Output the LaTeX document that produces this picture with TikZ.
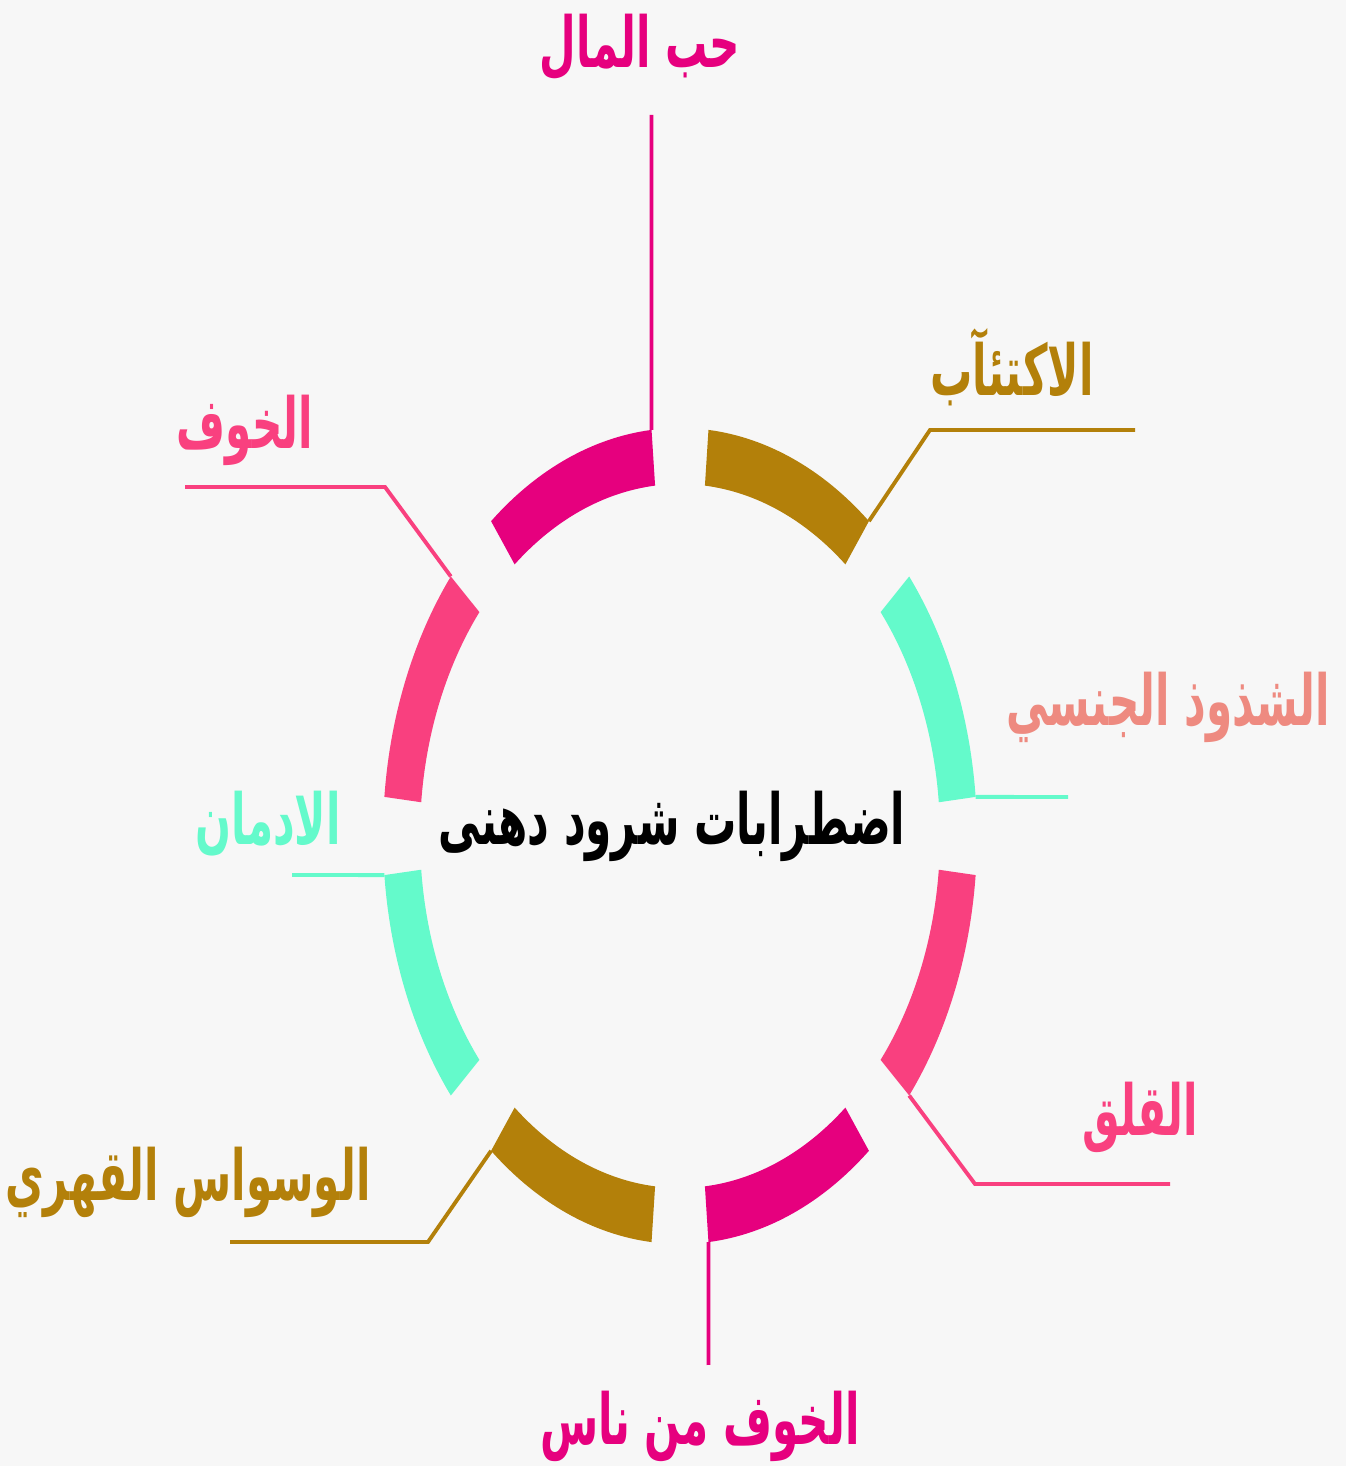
\documentclass[tikz,border=0pt]{standalone}
\usepackage{fontspec}
\newfontfamily\arabicfont[Script=Arabic]{DejaVu Sans}
\TeXXeTstate=1
\definecolor{mBack}{HTML}{F7F7F7}
\definecolor{mMagenta}{HTML}{E6007E}
\definecolor{mGold}{HTML}{B3800A}
\definecolor{mTeal}{HTML}{64FACB}
\definecolor{mPink}{HTML}{F9407F}
\definecolor{mSalmon}{HTML}{EE8A80}
\usetikzlibrary{calc}
\newcommand{\artext}[1]{{\arabicfont\bfseries\beginR #1\endR}}
\tikzset{
  leader/.style={line width=1.1pt},
  lbl/.style={inner sep=0pt, xscale=0.6, transform shape, font=\fontsize{20}{22}\selectfont},
}

\begin{document}
\begin{tikzpicture}
        \useasboundingbox[fill=mBack] (0,0) rectangle (13.46,14.66);

        \coordinate (C) at (6.80,6.30);
        \def\rxo{2.97}
        \def\ryo{4.08}
        \def\rxi{2.60}
        \def\ryi{3.52}

        % Ring
        \foreach \ang/\col in {22.5/mTeal,67.5/mGold,112.5/mMagenta,157.5/mPink,202.5/mTeal,247.5/mGold,292.5/mMagenta,337.5/mPink}{
          \pgfmathsetmacro\aone{\ang-17}
          \pgfmathsetmacro\atwo{\ang+17}
          \fill[\col] ($(C)+(\aone:2.97 and 4.08)$)
            arc[start angle=\aone, end angle=\atwo, x radius=\rxo, y radius=\ryo]
            -- ($(C)+(\atwo:2.60 and 3.52)$)
            arc[start angle=\atwo, end angle=\aone, x radius=\rxi, y radius=\ryi] -- cycle;
        }

        % Leader ends on the ring
        \coordinate (money) at ($(C)+(95.5:2.97 and 4.08)$);
        \coordinate (depr) at ($(C)+(50.5:2.97 and 4.08)$);
        \coordinate (devi) at ($(C)+(5.5:2.97 and 4.08)$);
        \coordinate (anx) at ($(C)+(-39.5:2.97 and 4.08)$);
        \coordinate (soc) at ($(C)+(-84.5:2.97 and 4.08)$);
        \coordinate (ocd) at ($(C)+(-129.5:2.97 and 4.08)$);
        \coordinate (addi) at ($(C)+(185.5:2.97 and 4.08)$);
        \coordinate (fear) at ($(C)+(140.5:2.97 and 4.08)$);

        % Free ends
        \coordinate (moneyEnd) at (6.515,13.51);
        \coordinate (deprBend) at (9.30,10.36);
        \coordinate (deprEnd) at (11.35,10.36);
        \coordinate (deviEnd) at (10.68,6.69);
        \coordinate (anxBend) at (9.75,2.82);
        \coordinate (anxEnd) at (11.70,2.82);
        \coordinate (socEnd) at (7.085,1.01);
        \coordinate (ocdBend) at (4.28,2.24);
        \coordinate (ocdEnd) at (2.30,2.24);
        \coordinate (addiEnd) at (2.92,5.91);
        \coordinate (fearBend) at (3.85,9.79);
        \coordinate (fearEnd) at (1.85,9.79);

        % Leaders
        \draw[leader,mMagenta] (money) -- (moneyEnd);
        \draw[leader,mGold] (depr) -- (deprBend) -- (deprEnd);
        \draw[leader,mTeal] (devi) -- (deviEnd);
        \draw[leader,mPink] (anx) -- (anxBend) -- (anxEnd);
        \draw[leader,mMagenta] (soc) -- (socEnd);
        \draw[leader,mGold] (ocd) -- (ocdBend) -- (ocdEnd);
        \draw[leader,mTeal] (addi) -- (addiEnd);
        \draw[leader,mPink] (fear) -- (fearBend) -- (fearEnd);

        % Labels
        \node[lbl,text=black] (title) at (6.72,6.40) {\artext{اضطرابات شرود دهنى}};
        \node[lbl,text=mMagenta] (moneyLbl) at (6.40,14.19) {\artext{حب المال}};
        \node[lbl,text=mGold] (deprLbl) at (10.12,10.99) {\artext{الاكتئآب}};
        \node[lbl,text=mSalmon] (deviLbl) at (11.68,7.59) {\artext{الشذوذ الجنسي}};
        \node[lbl,text=mPink] (anxLbl) at (11.40,3.49) {\artext{القلق}};
        \node[lbl,text=mMagenta] (socLbl) at (7.00,0.40) {\artext{الخوف من ناس}};
        \node[lbl,text=mGold] (ocdLbl) at (1.88,2.84) {\artext{الوسواس القهري}};
        \node[lbl,text=mTeal] (addiLbl) at (2.68,6.42) {\artext{الادمان}};
        \node[lbl,text=mPink] (fearLbl) at (2.45,10.36) {\artext{الخوف}};
      \end{tikzpicture}
\end{document}
